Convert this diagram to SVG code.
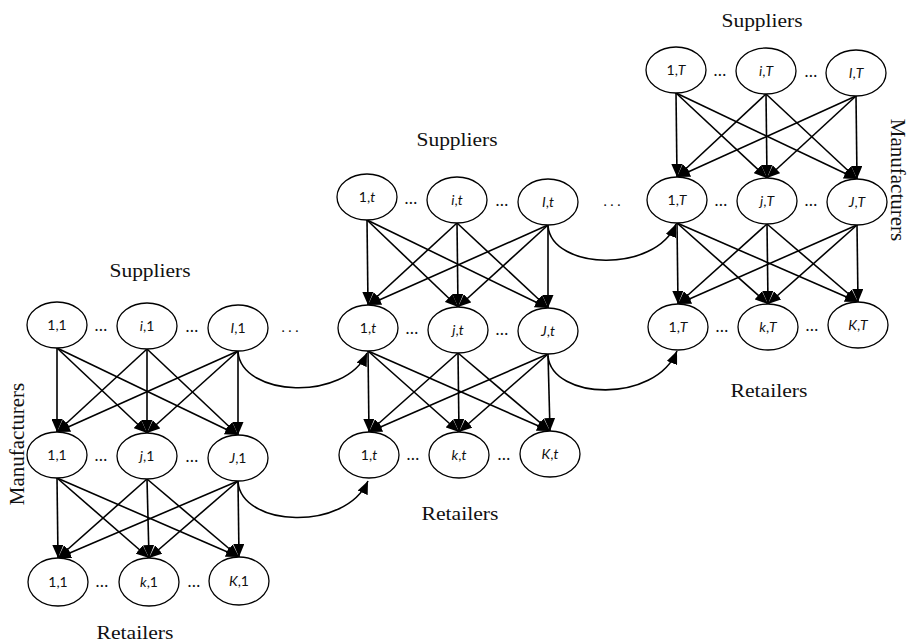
<svg xmlns="http://www.w3.org/2000/svg" width="909" height="643" viewBox="0 0 909 643">
<style>
.n ellipse{fill:#fff;stroke:#000;stroke-width:1.3}
.n text{font-family:Lato,"Open Sans",sans-serif;font-size:14px;text-anchor:middle;fill:#111}
.it{font-style:italic}
.lbl{font-family:"Liberation Serif","Times New Roman",serif;font-size:19px;fill:#111;text-anchor:middle}
.vl{font-family:"Liberation Serif","Times New Roman",serif;font-size:21px;fill:#111;text-anchor:middle}
.dots{font-family:Lato,sans-serif;font-size:17px;fill:#111;text-anchor:middle}
.sd{font-family:Lato,sans-serif;font-size:14px;fill:#111;text-anchor:middle}
#edges line,#edges path{stroke:#000;stroke-width:1.6;fill:none;marker-end:url(#ah)}
</style>
<defs>
<marker id="ah" markerUnits="userSpaceOnUse" markerWidth="13" markerHeight="11" refX="13" refY="5.5" orient="auto">
<path d="M0,0 L13,5.5 L0,11 z" fill="#000"/>
</marker>
</defs>
<rect width="909" height="643" fill="#fff"/>

<!-- labels -->
<text class="lbl" x="150" y="277" textLength="81" lengthAdjust="spacingAndGlyphs">Suppliers</text>
<text class="lbl" x="135" y="639" textLength="77" lengthAdjust="spacingAndGlyphs">Retailers</text>
<text class="vl" transform="translate(24,444) rotate(-90)">Manufacturers</text>
<text class="lbl" x="457" y="146" textLength="81" lengthAdjust="spacingAndGlyphs">Suppliers</text>
<text class="lbl" x="460" y="520" textLength="77" lengthAdjust="spacingAndGlyphs">Retailers</text>
<text class="lbl" x="762" y="27" textLength="81" lengthAdjust="spacingAndGlyphs">Suppliers</text>
<text class="lbl" x="769" y="397" textLength="77" lengthAdjust="spacingAndGlyphs">Retailers</text>
<text class="vl" transform="translate(891,180) rotate(90)">Manufacturers</text>

<!-- connectors -->
<g id="edges">
<!-- block 1 S->M -->
<line x1="57" y1="348" x2="57" y2="432"/><line x1="57" y1="348" x2="147" y2="433"/><line x1="57" y1="348" x2="238" y2="435"/>
<line x1="147" y1="349" x2="57" y2="432"/><line x1="147" y1="349" x2="147" y2="433"/><line x1="147" y1="349" x2="238" y2="435"/>
<line x1="238" y1="351" x2="57" y2="432"/><line x1="238" y1="351" x2="147" y2="433"/><line x1="238" y1="351" x2="238" y2="435"/>
<!-- block 1 M->R -->
<line x1="57" y1="478" x2="58" y2="558"/><line x1="57" y1="478" x2="149" y2="558"/><line x1="57" y1="478" x2="239" y2="557"/>
<line x1="147" y1="479" x2="58" y2="558"/><line x1="147" y1="479" x2="149" y2="558"/><line x1="147" y1="479" x2="239" y2="557"/>
<line x1="238" y1="481" x2="58" y2="558"/><line x1="238" y1="481" x2="149" y2="558"/><line x1="238" y1="481" x2="239" y2="557"/>
<!-- block 2 S->M -->
<line x1="367" y1="220" x2="368" y2="305"/><line x1="367" y1="220" x2="458" y2="307"/><line x1="367" y1="220" x2="548" y2="308"/>
<line x1="457" y1="223" x2="368" y2="305"/><line x1="457" y1="223" x2="458" y2="307"/><line x1="457" y1="223" x2="548" y2="308"/>
<line x1="548" y1="225" x2="368" y2="305"/><line x1="548" y1="225" x2="458" y2="307"/><line x1="548" y1="225" x2="548" y2="308"/>
<!-- block 2 M->R -->
<line x1="368" y1="351" x2="369" y2="432"/><line x1="368" y1="351" x2="459" y2="432"/><line x1="368" y1="351" x2="550" y2="431"/>
<line x1="458" y1="353" x2="369" y2="432"/><line x1="458" y1="353" x2="459" y2="432"/><line x1="458" y1="353" x2="550" y2="431"/>
<line x1="548" y1="354" x2="369" y2="432"/><line x1="548" y1="354" x2="459" y2="432"/><line x1="548" y1="354" x2="550" y2="431"/>
<!-- block 3 S->M -->
<line x1="676" y1="93" x2="677" y2="177"/><line x1="676" y1="93" x2="767" y2="178"/><line x1="676" y1="93" x2="857" y2="179"/>
<line x1="766" y1="94" x2="677" y2="177"/><line x1="766" y1="94" x2="767" y2="178"/><line x1="766" y1="94" x2="857" y2="179"/>
<line x1="856" y1="96" x2="677" y2="177"/><line x1="856" y1="96" x2="767" y2="178"/><line x1="856" y1="96" x2="857" y2="179"/>
<!-- block 3 M->R -->
<line x1="677" y1="223" x2="678" y2="304"/><line x1="677" y1="223" x2="768" y2="304"/><line x1="677" y1="223" x2="858" y2="302"/>
<line x1="767" y1="224" x2="678" y2="304"/><line x1="767" y1="224" x2="768" y2="304"/><line x1="767" y1="224" x2="858" y2="302"/>
<line x1="857" y1="225" x2="678" y2="304"/><line x1="857" y1="225" x2="768" y2="304"/><line x1="857" y1="225" x2="858" y2="302"/>
<!-- inter-period curves -->
<path d="M238,352 C242,397 345,402 367,353"/>
<path d="M238,482 C242,527 345,532 368,481"/>
<path d="M548,226 C552,270 655,274 676,224"/>
<path d="M548,356 C552,400 655,404 677,351"/>
</g>

<!-- dots -->
<text class="dots" x="101" y="331">…</text>
<text class="dots" x="192" y="332">…</text>
<text class="sd" x="290" y="332">. . .</text>
<text class="dots" x="101" y="461">…</text>
<text class="dots" x="192" y="462">…</text>
<text class="dots" x="102" y="587">…</text>
<text class="dots" x="194" y="587">…</text>
<text class="dots" x="411" y="204">…</text>
<text class="dots" x="502" y="206">…</text>
<text class="sd" x="612" y="206">. . .</text>
<text class="dots" x="412" y="334">…</text>
<text class="dots" x="502" y="335">…</text>
<text class="dots" x="413" y="460">…</text>
<text class="dots" x="504" y="460">…</text>
<text class="dots" x="720" y="76">…</text>
<text class="dots" x="811" y="77">…</text>
<text class="dots" x="721" y="206">…</text>
<text class="dots" x="811" y="206">…</text>
<text class="dots" x="722" y="332">…</text>
<text class="dots" x="812" y="331">…</text>

<!-- block 1 nodes -->
<g id="s1_1" class="n"><ellipse cx="57" cy="325" rx="30" ry="23"/><text x="57" y="330">1,1</text></g>
<g id="si_1" class="n"><ellipse cx="147" cy="326" rx="30" ry="23"/><text x="147" y="331"><tspan class="it">i</tspan>,1</text></g>
<g id="sI_1" class="n"><ellipse cx="238" cy="328" rx="30" ry="23"/><text x="238" y="333"><tspan class="it">I</tspan>,1</text></g>
<g id="m1_1" class="n"><ellipse cx="57" cy="455" rx="30" ry="23"/><text x="57" y="460">1,1</text></g>
<g id="mj_1" class="n"><ellipse cx="147" cy="456" rx="30" ry="23"/><text x="147" y="461"><tspan class="it">j</tspan>,1</text></g>
<g id="mJ_1" class="n"><ellipse cx="238" cy="458" rx="30" ry="23"/><text x="238" y="463"><tspan class="it">J</tspan>,1</text></g>
<g id="r1_1" class="n"><ellipse cx="58" cy="582" rx="30" ry="24"/><text x="58" y="587">1,1</text></g>
<g id="rk_1" class="n"><ellipse cx="149" cy="582" rx="30" ry="24"/><text x="149" y="587"><tspan class="it">k</tspan>,1</text></g>
<g id="rK_1" class="n"><ellipse cx="239" cy="581" rx="30" ry="24"/><text x="239" y="586"><tspan class="it">K</tspan>,1</text></g>

<!-- block 2 nodes -->
<g id="s1_t" class="n"><ellipse cx="367" cy="197" rx="30" ry="23"/><text x="367" y="202">1,<tspan class="it">t</tspan></text></g>
<g id="si_t" class="n"><ellipse cx="457" cy="200" rx="30" ry="23"/><text x="457" y="205"><tspan class="it">i</tspan>,<tspan class="it">t</tspan></text></g>
<g id="sI_t" class="n"><ellipse cx="548" cy="202" rx="30" ry="23"/><text x="548" y="207"><tspan class="it">I</tspan>,<tspan class="it">t</tspan></text></g>
<g id="m1_t" class="n"><ellipse cx="368" cy="328" rx="30" ry="23"/><text x="368" y="333">1,<tspan class="it">t</tspan></text></g>
<g id="mj_t" class="n"><ellipse cx="458" cy="330" rx="30" ry="23"/><text x="458" y="335"><tspan class="it">j</tspan>,<tspan class="it">t</tspan></text></g>
<g id="mJ_t" class="n"><ellipse cx="548" cy="331" rx="30" ry="23"/><text x="548" y="336"><tspan class="it">J</tspan>,<tspan class="it">t</tspan></text></g>
<g id="r1_t" class="n"><ellipse cx="369" cy="455" rx="30" ry="23"/><text x="369" y="460">1,<tspan class="it">t</tspan></text></g>
<g id="rk_t" class="n"><ellipse cx="459" cy="455" rx="30" ry="23"/><text x="459" y="460"><tspan class="it">k</tspan>,<tspan class="it">t</tspan></text></g>
<g id="rK_t" class="n"><ellipse cx="550" cy="454" rx="30" ry="23"/><text x="550" y="459"><tspan class="it">K</tspan>,<tspan class="it">t</tspan></text></g>

<!-- block 3 nodes -->
<g id="s1_T" class="n"><ellipse cx="676" cy="70" rx="30" ry="23"/><text x="676" y="75">1,<tspan class="it">T</tspan></text></g>
<g id="si_T" class="n"><ellipse cx="766" cy="71" rx="30" ry="23"/><text x="766" y="76"><tspan class="it">i</tspan>,<tspan class="it">T</tspan></text></g>
<g id="sI_T" class="n"><ellipse cx="856" cy="73" rx="30" ry="23"/><text x="856" y="78"><tspan class="it">I</tspan>,<tspan class="it">T</tspan></text></g>
<g id="m1_T" class="n"><ellipse cx="677" cy="200" rx="30" ry="23"/><text x="677" y="205">1,<tspan class="it">T</tspan></text></g>
<g id="mj_T" class="n"><ellipse cx="767" cy="201" rx="30" ry="23"/><text x="767" y="206"><tspan class="it">j</tspan>,<tspan class="it">T</tspan></text></g>
<g id="mJ_T" class="n"><ellipse cx="857" cy="202" rx="30" ry="23"/><text x="857" y="207"><tspan class="it">J</tspan>,<tspan class="it">T</tspan></text></g>
<g id="r1_T" class="n"><ellipse cx="678" cy="327" rx="30" ry="23"/><text x="678" y="332">1,<tspan class="it">T</tspan></text></g>
<g id="rk_T" class="n"><ellipse cx="768" cy="327" rx="30" ry="23"/><text x="768" y="332"><tspan class="it">k</tspan>,<tspan class="it">T</tspan></text></g>
<g id="rK_T" class="n"><ellipse cx="858" cy="325" rx="30" ry="23"/><text x="858" y="330"><tspan class="it">K</tspan>,<tspan class="it">T</tspan></text></g>
</svg>
